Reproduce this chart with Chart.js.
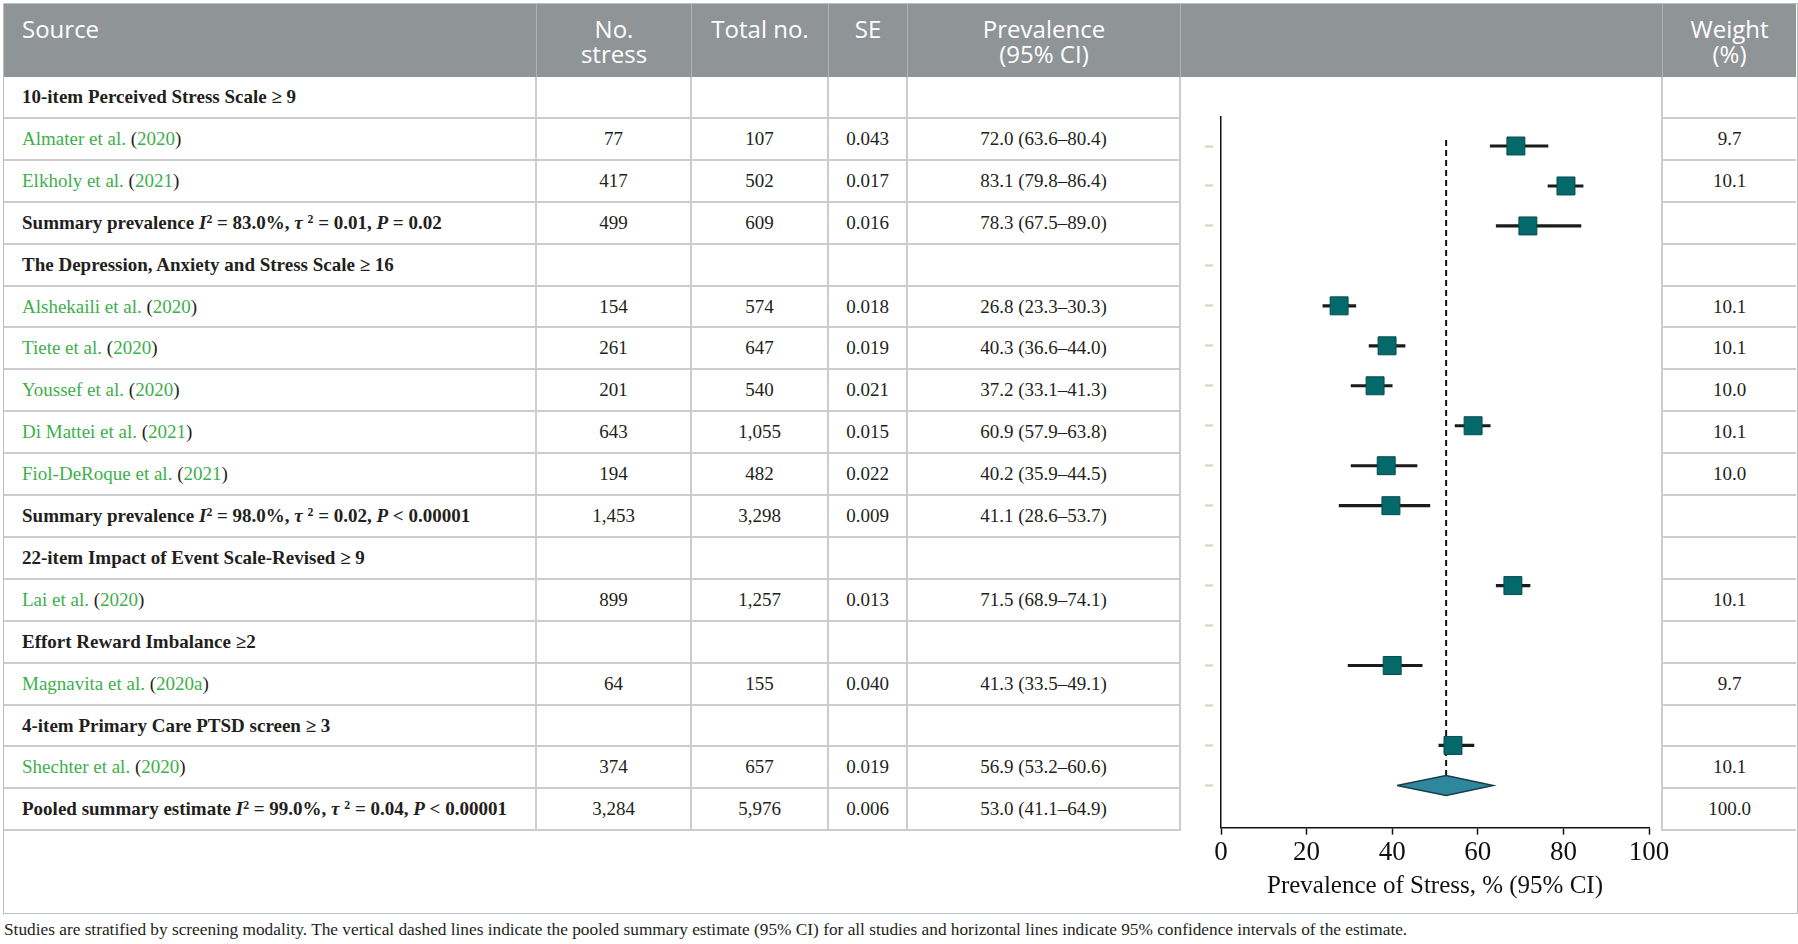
<!DOCTYPE html>
<html>
<head>
<meta charset="utf-8">
<script src="https://cdn.jsdelivr.net/npm/chart.js@4.4.1/dist/chart.umd.min.js"></script>
<style>
  html, body { margin: 0; padding: 0; background: #fff; }
  body { width: 1798px; height: 944px; position: relative; overflow: hidden;
         font-family: 'Liberation Serif', 'DejaVu Serif', serif; color: #231f20; }
  #frame { position: absolute; left: 3px; top: 3px; width: 1795px; height: 911px;
           border: 1.5px solid #b7c2be; box-sizing: border-box; }
  .hd { position: absolute; top: 4px; height: 73px; background: #8f9497; color: #fff;
        font-family: 'Open Sans', 'Noto Sans', sans-serif; font-size: 24px; line-height: 25px;
        padding-top: 12px; box-sizing: border-box; text-align: center; white-space: pre;
        border-right: 1px solid #adb2b4; }
  .hd.src { text-align: left; padding-left: 18px; }
  .cell { position: absolute; box-sizing: border-box;
          border-right: 2px solid #cdcdcd; border-bottom: 2px solid #cdcdcd;
          display: flex; align-items: center; justify-content: center;
          font-size: 19px; white-space: nowrap; }
  .cell.src { justify-content: flex-start; padding-left: 18px; }
  .cell.last { border-right: none; }
  .b { font-weight: bold; }
  .g { color: #3daf4b; }
  sup { font-size: 0.62em; vertical-align: 0.55em; line-height: 0; }
  #plotcol { position: absolute; left: 1181px; top: 77px; width: 482px; height: 754px;
             border-right: 2px solid #cdcdcd; box-sizing: border-box; }
  #chartWrap { position: absolute; left: 1182px; top: 76px; width: 500px; height: 835px; z-index: 2; }
  #caption { position: absolute; left: 4px; top: 920px; font-size: 17.3px; line-height: 20px; white-space: nowrap; }
</style>
</head>
<body>
<div id="frame"></div>
<div id="table"></div>
<div id="plotcol"></div>
<div id="chartWrap"><canvas id="forestChart"></canvas></div>
<div id="caption">Studies are stratified by screening modality. The vertical dashed lines indicate the pooled summary estimate (95% CI) for all studies and horizontal lines indicate 95% confidence intervals of the estimate.</div>

<script>
// Tabel kolom
const headers = ['Source', 'No.\nstress', 'Total no.', 'SE', 'Prevalence\n(95% CI)', '', 'Weight\n(%)'];

const rowKinds = ['group', 'study', 'study', 'summary', 'group', 'study', 'study', 'study', 'study', 'study',
                  'summary', 'group', 'study', 'group', 'study', 'group', 'study', 'pooled'];

const sourceLabels = [
    '10-item Perceived Stress Scale ≥ 9',
    'Almater et al. (2020)',
    'Elkholy et al. (2021)',
    'Summary prevalence I² = 83.0%, τ² = 0.01, P = 0.02',
    'The Depression, Anxiety and Stress Scale ≥ 16',
    'Alshekaili et al. (2020)',
    'Tiete et al. (2020)',
    'Youssef et al. (2020)',
    'Di Mattei et al. (2021)',
    'Fiol-DeRoque et al. (2021)',
    'Summary prevalence I² = 98.0%, τ² = 0.02, P < 0.00001',
    '22-item Impact of Event Scale-Revised ≥ 9',
    'Lai et al. (2020)',
    'Effort Reward Imbalance ≥2',
    'Magnavita et al. (2020a)',
    '4-item Primary Care PTSD screen ≥ 3',
    'Shechter et al. (2020)',
    'Pooled summary estimate I² = 99.0%, τ² = 0.04, P < 0.00001'
];

const noStress = ['', '77', '417', '499', '', '154', '261', '201', '643', '194', '1,453', '', '899', '', '64', '', '374', '3,284'];
const totalNo  = ['', '107', '502', '609', '', '574', '647', '540', '1,055', '482', '3,298', '', '1,257', '', '155', '', '657', '5,976'];
const seVals   = ['', '0.043', '0.017', '0.016', '', '0.018', '0.019', '0.021', '0.015', '0.022', '0.009', '', '0.013', '', '0.040', '', '0.019', '0.006'];
const prevText = ['', '72.0 (63.6–80.4)', '83.1 (79.8–86.4)', '78.3 (67.5–89.0)', '', '26.8 (23.3–30.3)', '40.3 (36.6–44.0)',
                  '37.2 (33.1–41.3)', '60.9 (57.9–63.8)', '40.2 (35.9–44.5)', '41.1 (28.6–53.7)', '', '71.5 (68.9–74.1)', '',
                  '41.3 (33.5–49.1)', '', '56.9 (53.2–60.6)', '53.0 (41.1–64.9)'];
const weights  = ['', '9.7', '10.1', '', '', '10.1', '10.1', '10.0', '10.1', '10.0', '', '', '10.1', '', '9.7', '', '10.1', '100.0'];

// Nilai seperti yang tergambar di plot
const plotEst = [null, 68.9, 80.6, 71.7, null, 27.6, 38.8, 36.0, 58.9, 38.6, 39.7, null, 68.2, null, 40.0, null, 54.2, 52.6];
const plotLo  = [null, 62.9, 76.4, 64.3, null, 23.8, 34.6, 30.4, 54.7, 30.4, 27.6, null, 64.3, null, 29.7, null, 50.9, 41.1];
const plotHi  = [null, 76.4, 84.6, 84.1, null, 31.5, 43.0, 40.0, 62.9, 45.8, 48.8, null, 72.2, null, 47.0, null, 59.1, 63.6];

const xTicks = [0, 20, 40, 60, 80, 100];
const xTitle = 'Prevalence of Stress, % (95% CI)';

// layout
const colEdges = [4, 537, 692, 829, 908, 1181, 1663, 1796];
const bodyTop = 77, rowH = 41.9;

function sourceHtml(label, kind) {
    if (kind === 'study') {
        const m = label.match(/^(.*) \((.*)\)$/);
        return '<span class="g">' + m[1] + '</span> (<span class="g">' + m[2] + '</span>)';
    }
    if (kind === 'summary' || kind === 'pooled') {
        return label.replace('<', '&lt;')
            .replace('I²', '<i>I</i><sup>2</sup>')
            .replace('τ²', '<i>τ</i> <sup>2</sup>')
            .replace(', P ', ', <i>P</i> ');
    }
    return label;
}

const table = document.getElementById('table');
headers.forEach((h, c) => {
    const d = document.createElement('div');
    d.className = 'hd' + (c === 0 ? ' src' : '');
    d.style.left = colEdges[c] + 'px';
    d.style.width = (colEdges[c + 1] - colEdges[c]) + 'px';
    if (c === headers.length - 1) d.style.borderRight = 'none';
    d.textContent = h;
    table.appendChild(d);
});

const bodyCols = [null, noStress, totalNo, seVals, prevText, null, weights];
sourceLabels.forEach((label, r) => {
    const bold = rowKinds[r] !== 'study';
    const top = Math.round(bodyTop + r * rowH);
    const bottom = Math.round(bodyTop + (r + 1) * rowH);
    bodyCols.forEach((col, c) => {
        if (c === 5) return; // kolom plot
        const d = document.createElement('div');
        d.className = 'cell' + (c === 0 ? ' src' : '') + (c === 6 ? ' last' : '') + (bold && c === 0 ? ' b' : '');
        d.style.left = colEdges[c] + 'px';
        d.style.width = (colEdges[c + 1] - colEdges[c]) + 'px';
        d.style.top = top + 'px';
        d.style.height = (bottom - top) + 'px';
        d.innerHTML = '<span>' + (c === 0 ? sourceHtml(label, rowKinds[r]) : col[r]) + '</span>';
        table.appendChild(d);
    });
});

// Forest plot
const slotCount = sourceLabels.length - 1;
const plotted = sourceLabels.map((_, i) => i).filter(i => plotEst[i] !== null);
const studyIdx = plotted.filter(i => rowKinds[i] !== 'pooled');
const pooledIdx = rowKinds.indexOf('pooled');
const pooledSlot = pooledIdx - 1;
const diamondHalf = 0.25;
const slotEdges = [];
for (let s = 1; s < slotCount; s++) slotEdges.push(s - 0.5);

const diamond = [
    {x: plotLo[pooledIdx], y: pooledSlot},
    {x: plotEst[pooledIdx], y: pooledSlot - diamondHalf},
    {x: plotHi[pooledIdx], y: pooledSlot},
    {x: plotEst[pooledIdx], y: pooledSlot + diamondHalf},
    {x: plotLo[pooledIdx], y: pooledSlot}
];

Chart.defaults.font.family = "'Liberation Serif', 'DejaVu Serif', serif";
Chart.defaults.color = '#111';

new Chart(document.getElementById('forestChart'), {
    type: 'scatter',
    data: {
        datasets: [
            {
                type: 'bar',
                indexAxis: 'y',
                data: studyIdx.map(i => ({y: i - 1, x: [plotLo[i], plotHi[i]]})),
                barThickness: 2.5,
                backgroundColor: '#1b1b1b',
                order: 2
            },
            {
                type: 'scatter',
                data: studyIdx.map(i => ({x: plotEst[i], y: i - 1})),
                pointStyle: 'rect',
                pointRadius: 12.7,
                backgroundColor: '#04696a',
                borderColor: '#0a4c4d',
                borderWidth: 1,
                order: 0
            },
            {
                type: 'line',
                data: diamond,
                fill: 'shape',
                backgroundColor: '#2f879d',
                borderColor: '#173f49',
                borderWidth: 1.5,
                pointRadius: 0,
                tension: 0,
                order: 1
            },
            {
                type: 'line',
                data: [{x: plotEst[pooledIdx], y: -0.15}, {x: plotEst[pooledIdx], y: pooledSlot - diamondHalf}],
                borderColor: '#111',
                borderWidth: 2,
                borderDash: [6, 4],
                pointRadius: 0,
                fill: false,
                order: 3
            }
        ]
    },
    options: {
        responsive: true,
        maintainAspectRatio: false,
        animation: false,
        layout: { padding: { left: 23, right: 33, top: 41, bottom: 10 } },
        plugins: {
            legend: { display: false },
            tooltip: { enabled: false }
        },
        scales: {
            x: {
                type: 'linear',
                min: xTicks[0],
                max: xTicks[xTicks.length - 1],
                afterBuildTicks: axis => { axis.ticks = xTicks.map(v => ({value: v})); },
                ticks: { font: { size: 27 }, padding: 2, color: '#111' },
                grid: { drawOnChartArea: false, drawTicks: true, tickLength: 7, tickColor: '#111', tickWidth: 1.5 },
                border: { color: '#111', width: 1.5 },
                title: { display: true, text: xTitle, font: { size: 25 }, color: '#111', padding: { top: 0, bottom: 0 } }
            },
            y: {
                type: 'linear',
                reverse: true,
                min: -0.17,
                max: slotCount - 0.5,
                afterBuildTicks: axis => { axis.ticks = slotEdges.map(v => ({value: v})); },
                ticks: { display: false },
                grid: { drawOnChartArea: false, drawTicks: true, tickLength: 16, tickColor: '#d6d2b6',
                        tickWidth: 2, tickBorderDash: [8, 8] },
                border: { color: '#111', width: 1.5 }
            }
        }
    }
});
</script>
</body>
</html>
